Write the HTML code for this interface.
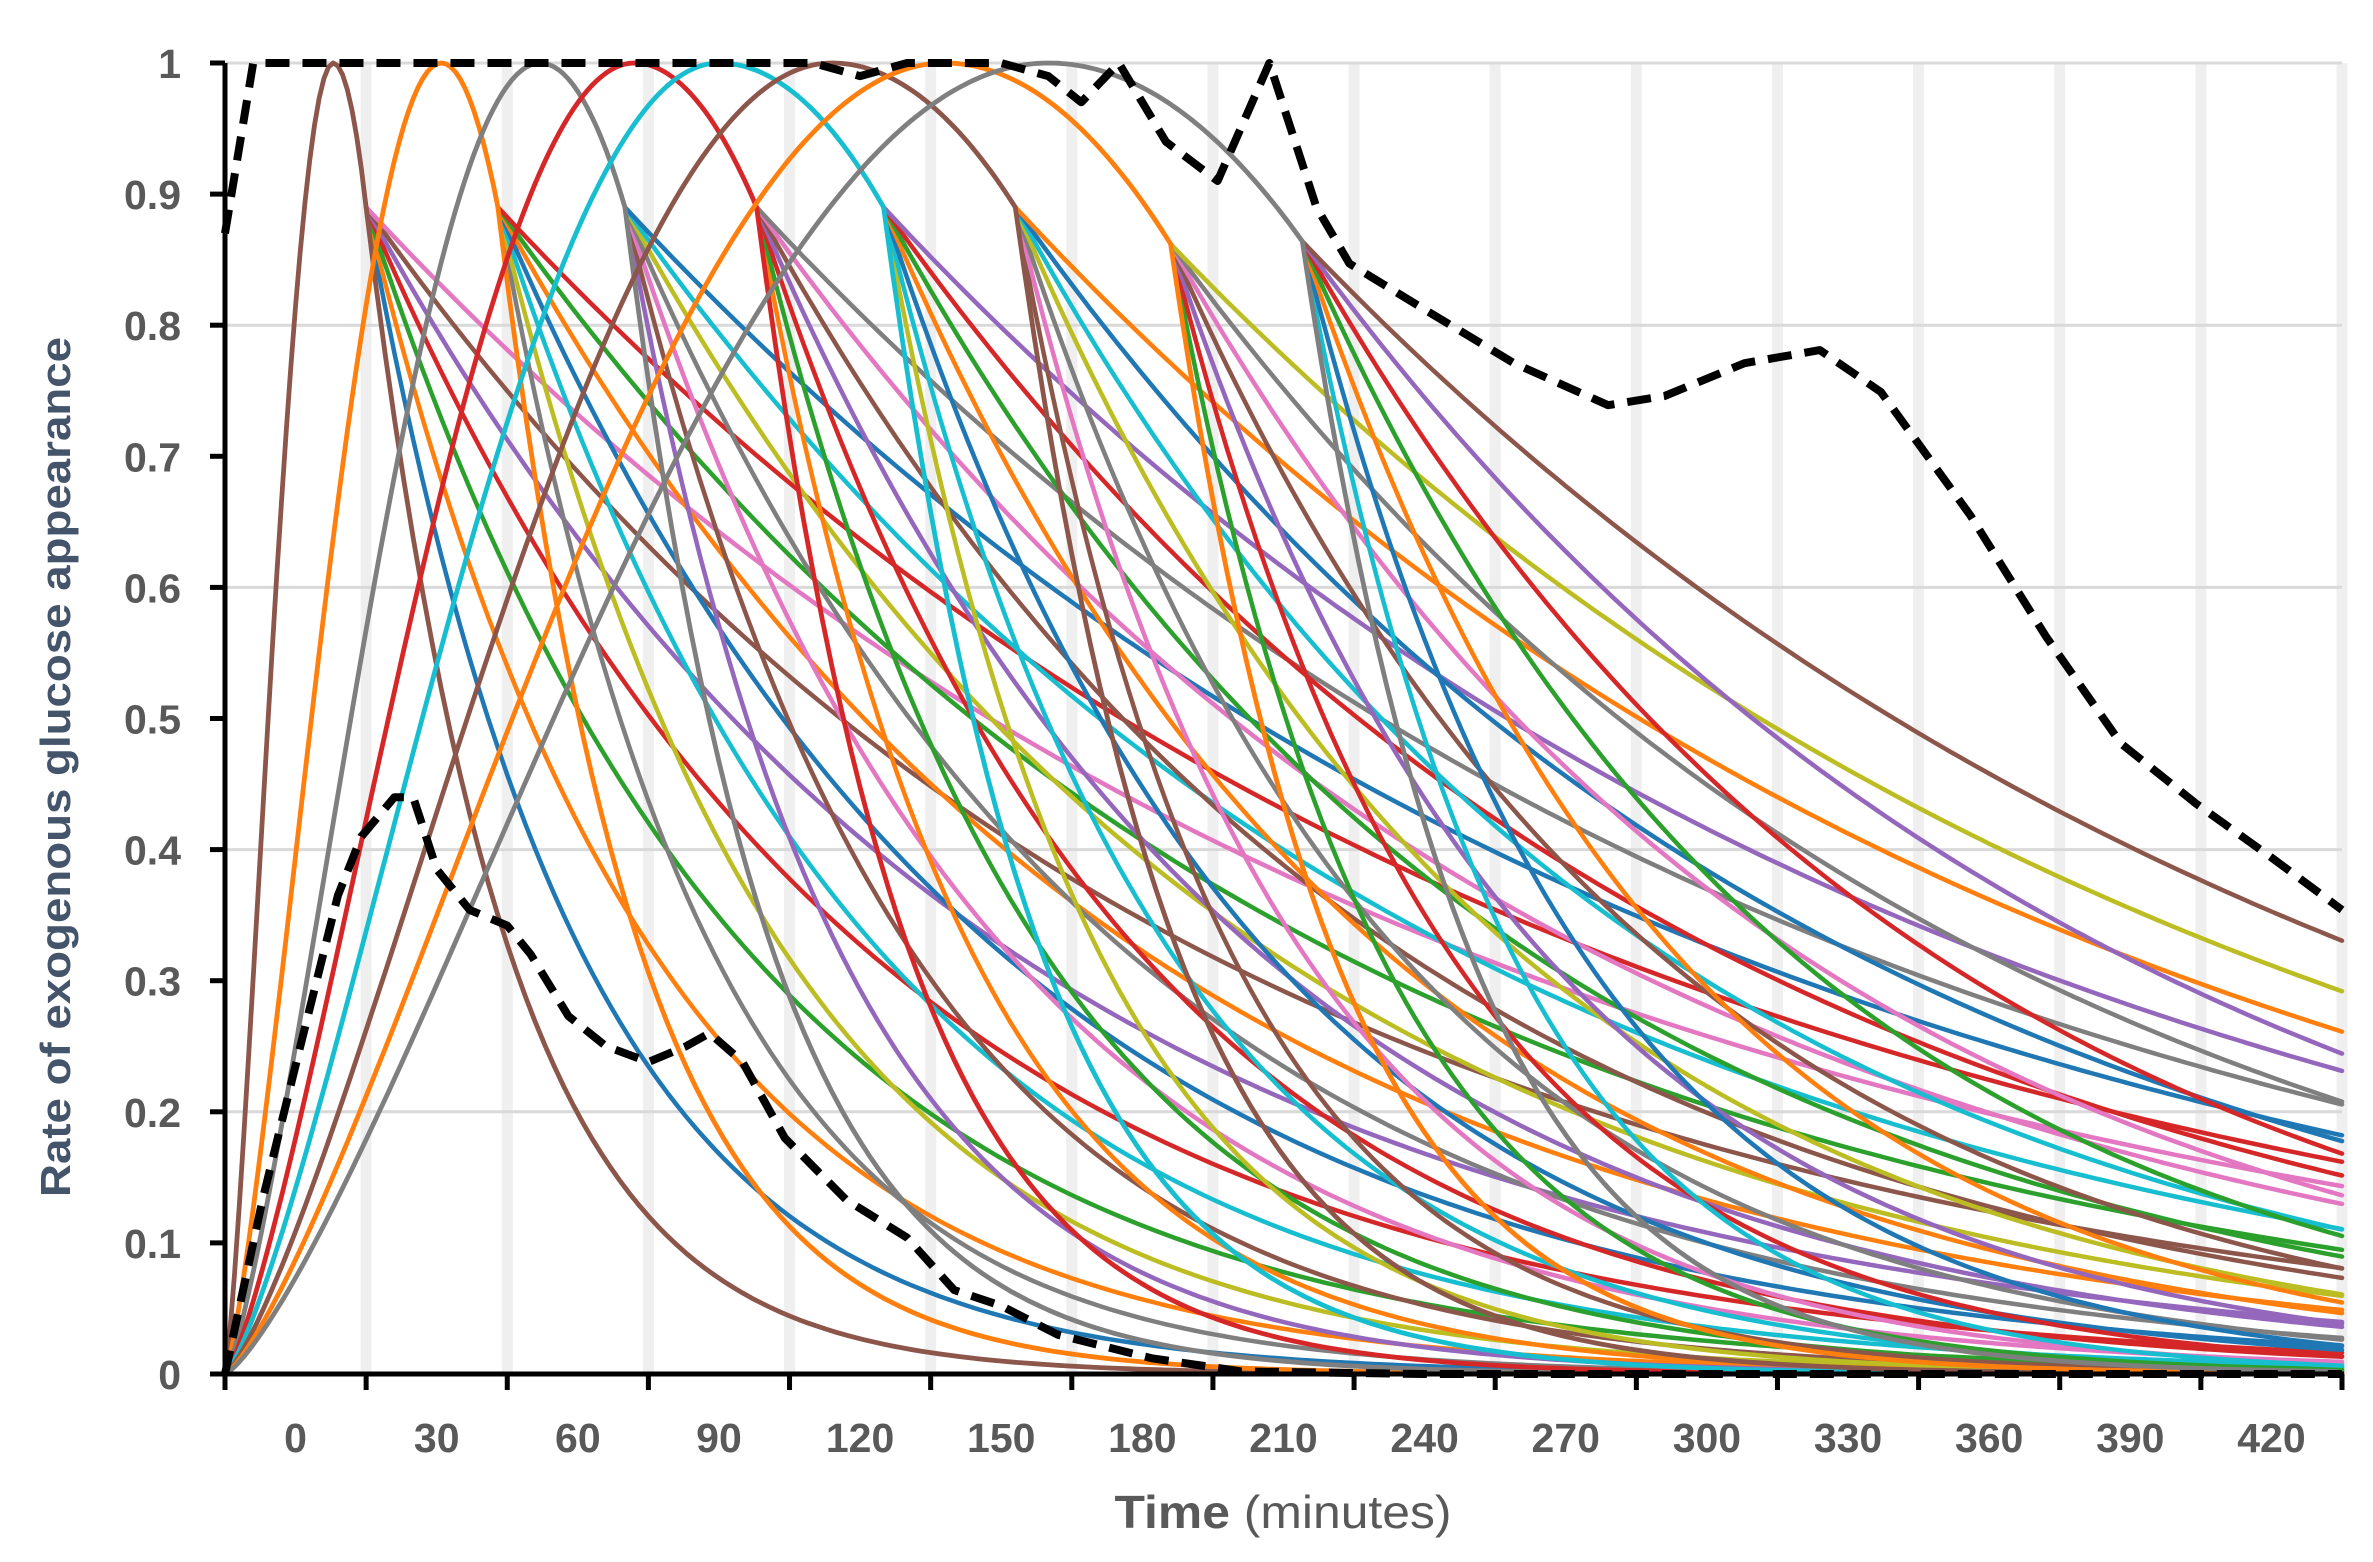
<!DOCTYPE html>
<html><head><meta charset="utf-8"><style>
html,body{margin:0;padding:0;background:#fff}
svg{display:block}
text{font-family:"Liberation Sans",Arial,sans-serif}
</style></head><body>
<svg id="chart" width="2373" height="1562" viewBox="0 0 2373 1562" xmlns="http://www.w3.org/2000/svg">
<g id="grid"></g>
<g id="series"></g>
<g id="axes"></g>
<text x="0" y="0" transform="translate(70,767) rotate(-90)" text-anchor="middle" font-size="42" font-weight="bold" fill="#44546A" textLength="860" lengthAdjust="spacingAndGlyphs">Rate of exogenous glucose appearance</text>
<text x="1283" y="1528" text-anchor="middle" font-size="46" fill="#595959" textLength="337" lengthAdjust="spacingAndGlyphs"><tspan font-weight="bold">Time</tspan> (minutes)</text>
</svg>
<script>
// ---- data ----
const xTickLabels = [0,30,60,90,120,150,180,210,240,270,300,330,360,390,420];
const yTickLabels = [0,0.1,0.2,0.3,0.4,0.5,0.6,0.7,0.8,0.9,1];
const peakTimes = [8,31,52,72,90,114,138,160];
const branchTimes = [15,43,70,98,125,153,186,214];
const branchValues = [0.89,0.89,0.89,0.89,0.89,0.89,0.862,0.864];
const bellTau = [30,30,31,32,33,34,35,36];
const branchTaus = [45,60,80,105,135,175,230];
const bellColors = ['#8c564b','#ff7f0e','#7f7f7f','#d62728','#17becf','#8c564b','#ff7f0e','#7f7f7f'];
const palette = ['#1f77b4','#ff7f0e','#2ca02c','#d62728','#9467bd','#8c564b','#e377c2','#7f7f7f','#bcbd22','#17becf'];
const upperT = [-15,-9,0,30,60,90,110,120,130,150,160,167,175,185,196,207,217,224,240,259,279,291,308,324,337,356,372,388,404,420,435];
const upperV = [0.87,1,1,1,1,1,1,0.99,1,1,0.99,0.97,1,0.94,0.91,1,0.89,0.847,0.812,0.771,0.739,0.746,0.771,0.781,0.749,0.655,0.563,0.481,0.435,0.394,0.354];
const lowerT = [-15,-7,1,9,14,21,25,30,37,45,50,58,66,75,83,88,95,104,117,130,140,150,162,182,201,240,300,435];
const lowerV = [0,0.133,0.25,0.365,0.41,0.44,0.44,0.385,0.354,0.342,0.32,0.273,0.25,0.238,0.25,0.26,0.238,0.18,0.133,0.104,0.064,0.052,0.03,0.012,0.002,0,0,0];

// ---- axes functions ----
const X0=225, XR=2342, Y0=1374, Y1=63, TMIN=-15, TMAX=435;
function xs(t){return X0+(t-TMIN)*(XR-X0)/(TMAX-TMIN);}
function ys(v){return Y0-v*(Y0-Y1);}
const NS='http://www.w3.org/2000/svg';
function mk(tag,attrs,parent){const e=document.createElementNS(NS,tag);for(const k in attrs)e.setAttribute(k,attrs[k]);parent.appendChild(e);return e;}
const grid=document.getElementById('grid'), series=document.getElementById('series'), axes=document.getElementById('axes');

for(let i=1;i<=xTickLabels.length;i++){
  const t=xTickLabels[i-1]+15;
  const b=mk('line',{x1:xs(t),x2:xs(t),y1:Y1,y2:Y0,stroke:'#efefef','stroke-width':11},grid);
  
  
}
yTickLabels.forEach((v,i)=>{
  if(i%2===0 && v>0){
    const g=mk('line',{x1:X0,x2:XR,y1:ys(v),y2:ys(v),stroke:'#d9d9d9','stroke-width':3},grid);
    
    
  }
});

function pathFrom(pts){return pts.map((p,i)=>(i?'L':'M')+xs(p[0]).toFixed(1)+','+ys(p[1]).toFixed(1)).join(' ');}
function riseVal(t,g){
  const P=peakTimes[g],B=branchTimes[g],V=branchValues[g];
  if(t<=P){const u=(t-TMIN)/(P-TMIN);return Math.pow(Math.sin(Math.PI/2*u),1.3);}
  const r=(t-P)/(B-P);return 1-(1-V)*r*r;
}
let ci=0;
peakTimes.forEach((P,g)=>{
  const B=branchTimes[g],V=branchValues[g];
  branchTaus.forEach((tau,k)=>{
    const pts=[];
    for(let t=B;t<=TMAX;t+=2)pts.push([t,V*Math.exp(-(t-B)/tau)]);
    pts.push([TMAX,V*Math.exp(-(TMAX-B)/tau)]);
    const p=mk('path',{d:pathFrom(pts),fill:'none',stroke:palette[ci%palette.length],'stroke-width':4.5,'stroke-linejoin':'round','stroke-linecap':'round'},series);
    
    
    ci++;
  });
});
peakTimes.forEach((P,g)=>{
  const B=branchTimes[g],V=branchValues[g];
  const pts=[];
  for(let t=TMIN;t<B;t+=1)pts.push([t,riseVal(t,g)]);
  for(let t=B;t<=TMAX;t+=2)pts.push([t,V*Math.exp(-(t-B)/bellTau[g])]);
  const p=mk('path',{d:pathFrom(pts),fill:'none',stroke:bellColors[g],'stroke-width':4.8,'stroke-linejoin':'round'},series);
  
  
});
const up=mk('path',{d:pathFrom(upperT.map((t,i)=>[t,upperV[i]])),fill:'none',stroke:'#000','stroke-width':8,'stroke-dasharray':'24 13','stroke-linejoin':'round'},series);


const lo=mk('path',{d:pathFrom(lowerT.map((t,i)=>[t,lowerV[i]])),fill:'none',stroke:'#000','stroke-width':8,'stroke-dasharray':'24 13','stroke-linejoin':'round'},series);



const ya=mk('line',{x1:X0,x2:X0,y1:Y1,y2:Y0+2,stroke:'#000','stroke-width':5},axes);


const xa=mk('line',{x1:X0-15,x2:XR+2,y1:Y0,y2:Y0,stroke:'#000','stroke-width':5},axes);


yTickLabels.forEach(v=>{
  const tk=mk('line',{x1:X0-15,x2:X0,y1:ys(v),y2:ys(v),stroke:'#000','stroke-width':5},axes);
  
  
  const tx=mk('text',{x:181,y:ys(v)+15,'text-anchor':'end','font-size':41,'font-weight':'bold',fill:'#595959'},axes);
  tx.textContent=String(v);
  
  
});
for(let i=0;i<=xTickLabels.length;i++){
  const t=TMIN+i*30;
  const tk=mk('line',{x1:xs(t),x2:xs(t),y1:Y0,y2:Y0+16,stroke:'#000','stroke-width':5},axes);
  
  
}
xTickLabels.forEach(t=>{
  const tx=mk('text',{x:xs(t),y:1452,'text-anchor':'middle','font-size':41,'font-weight':'bold',fill:'#595959'},axes);
  tx.textContent=String(t);
  
  
});
</script>
</body></html>
